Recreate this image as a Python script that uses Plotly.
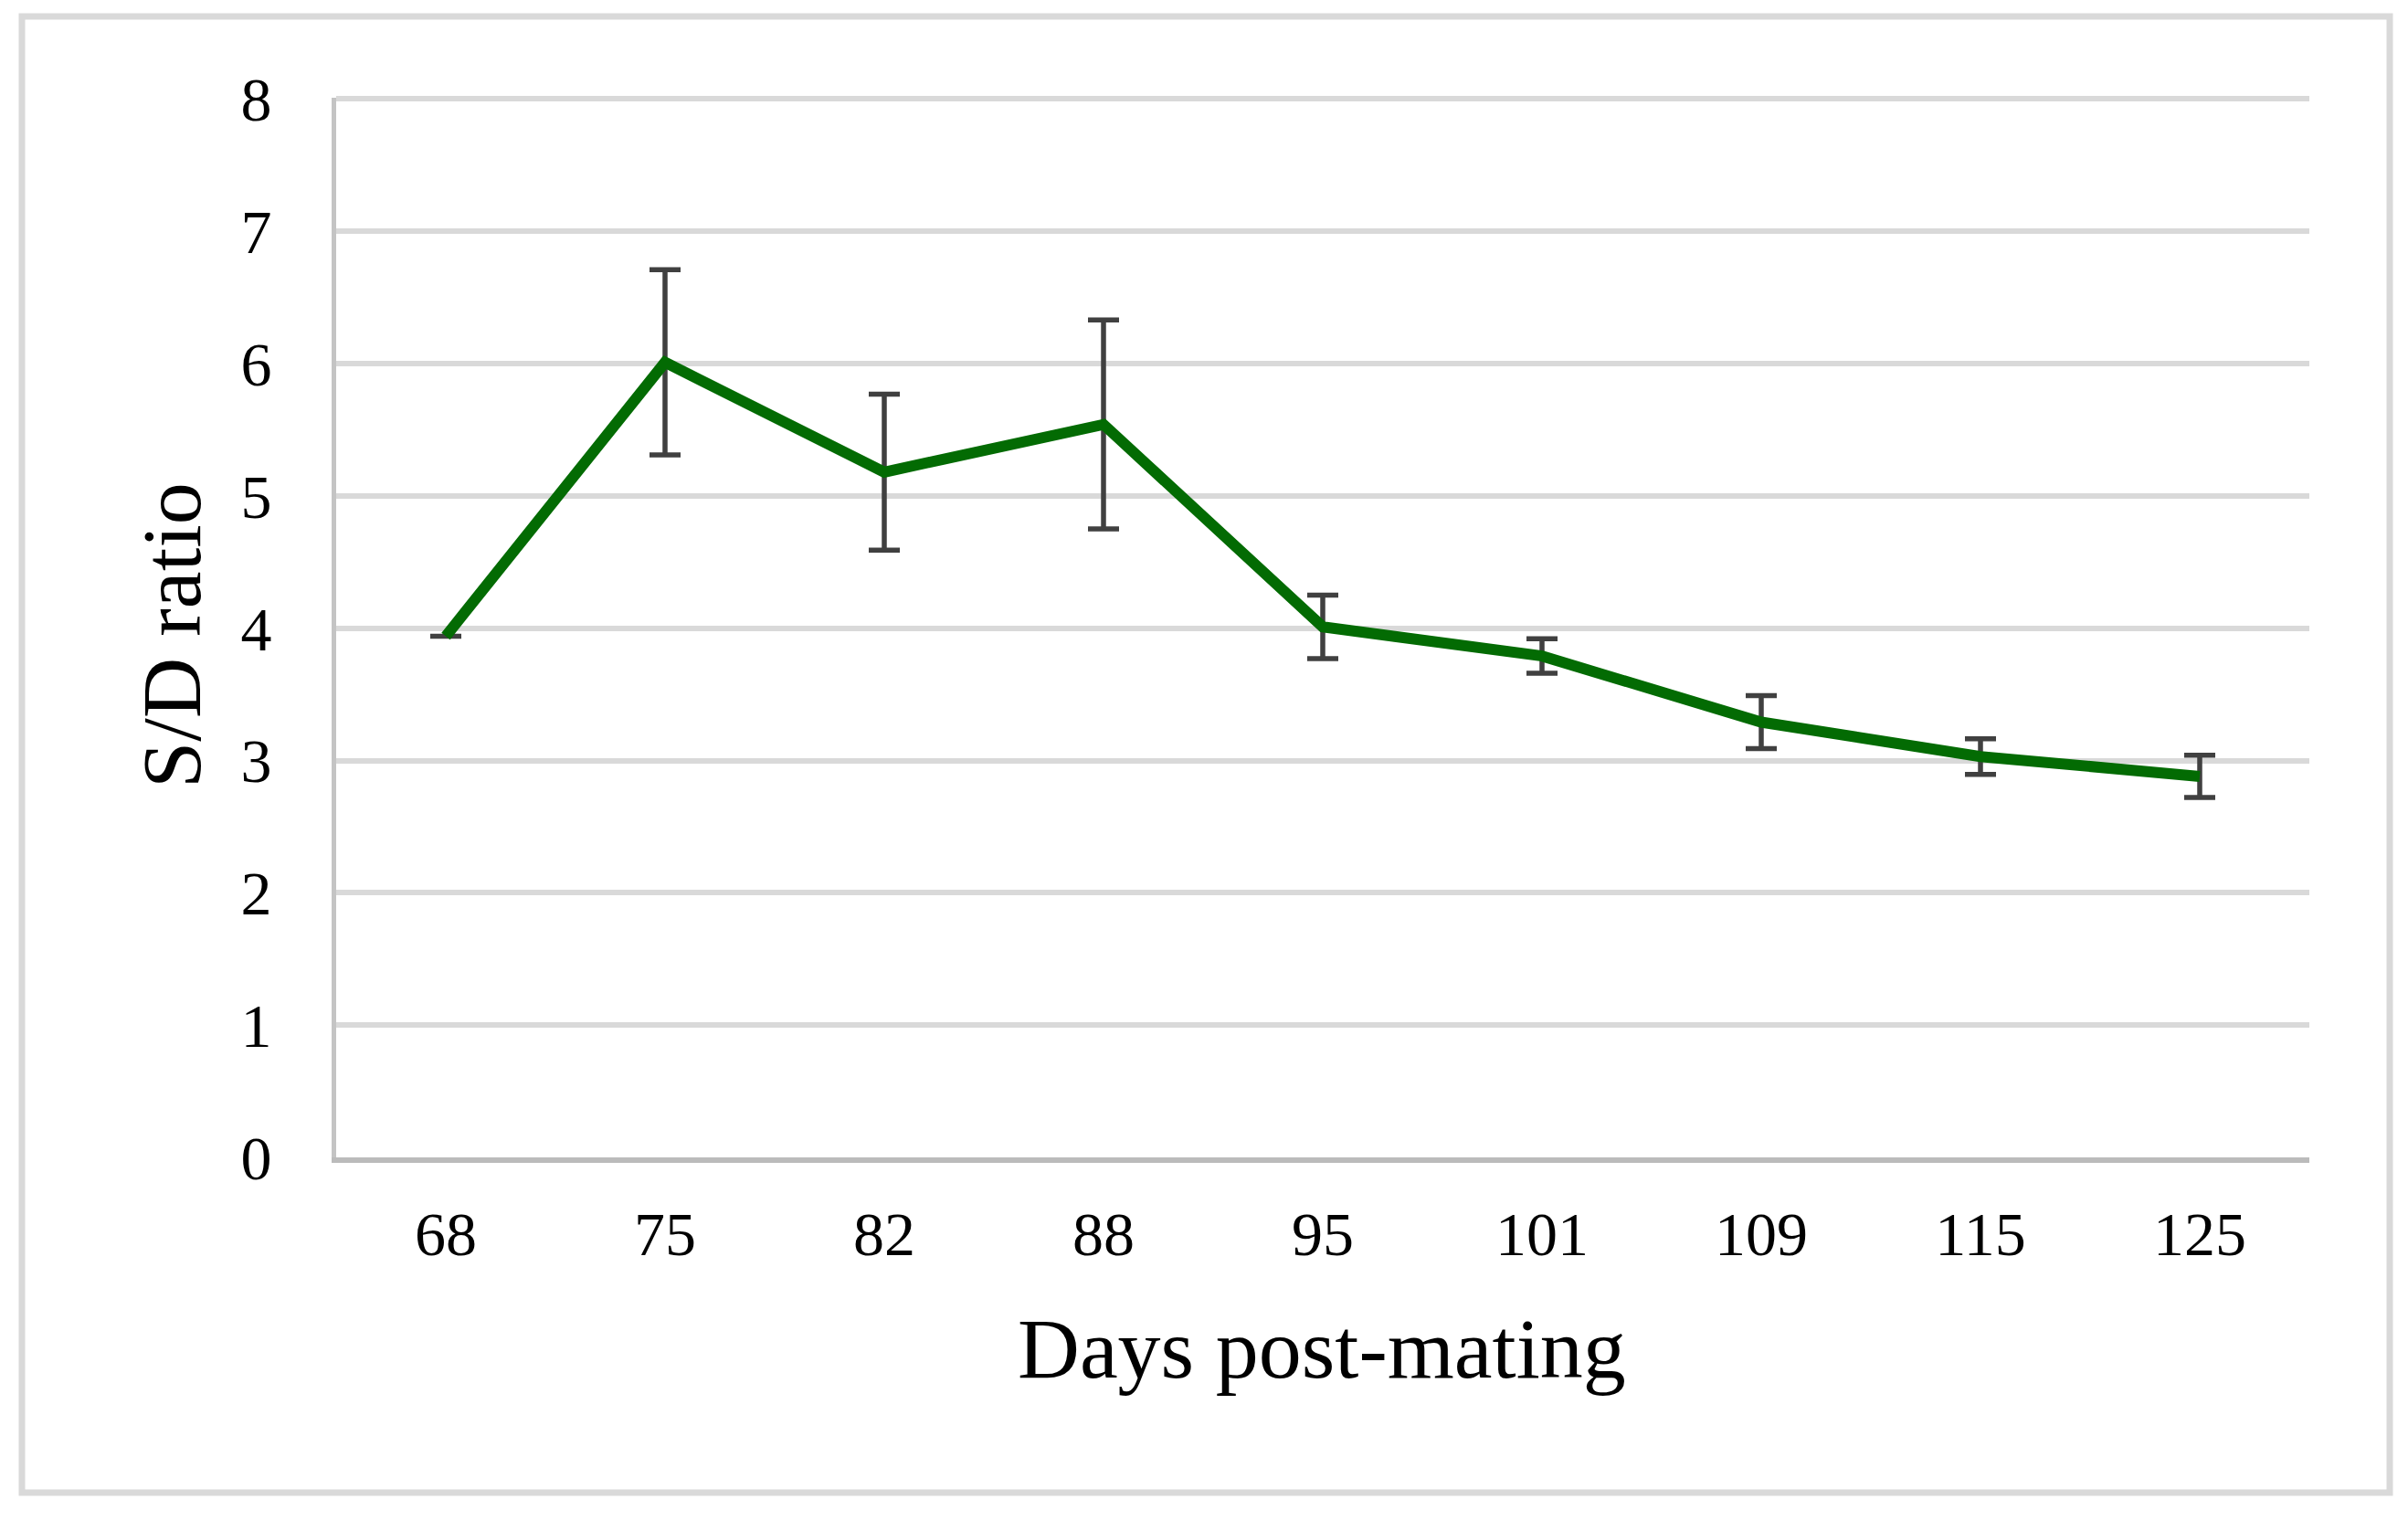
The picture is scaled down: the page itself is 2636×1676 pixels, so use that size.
import plotly.graph_objects as go

days = ["68", "75", "82", "88", "95", "101", "109", "115", "125"]
sd_ratio = [3.94, 6.01, 5.18, 5.54, 4.01, 3.79, 3.29, 3.03, 2.88]
sd_error = [0.0, 0.70, 0.59, 0.79, 0.24, 0.13, 0.20, 0.135, 0.16]
y_ticks = [0, 1, 2, 3, 4, 5, 6, 7, 8]

OFF = 8  # page body margin
W, H = 2636 - 2 * OFF, 1676 - 2 * OFF
# target positions in screenshot pixels, converted to figure pixels
L, R, T, B = 368 - OFF, 2528 - OFF, 107 - OFF, 1267 - OFF
FONT = "Liberation Serif"

fig = go.Figure()
fig.add_trace(go.Scatter(
    x=days, y=sd_ratio, mode="lines",
    line=dict(color="#036B03", width=12),
    error_y=dict(type="data", array=sd_error, visible=True,
                 color="#404040", thickness=5.5, width=17),
    showlegend=False,
))

def px(xs):
    return (xs - OFF - L) / (R - L)

def py(ys):
    return (B - (ys - OFF)) / (B - T)

fig.update_layout(
    width=W, height=H,
    margin=dict(l=L, r=W - R, t=T, b=H - B),
    paper_bgcolor="white", plot_bgcolor="white",
    font=dict(family=FONT, color="#000000"),
    xaxis=dict(type="category", range=[-0.5, 8.5], showgrid=False,
               showline=True, linecolor="#BBBBBB", linewidth=6,
               ticks="", tickfont=dict(size=68, family=FONT),
               ticklabelstandoff=19, zeroline=False),
    yaxis=dict(range=[0, 8.01], tickvals=y_ticks, showgrid=True,
               gridcolor="#D9D9D9", gridwidth=6,
               showline=True, linecolor="#C4C4C4", linewidth=5,
               ticks="", tickfont=dict(size=68, family=FONT),
               ticklabelstandoff=52, zeroline=False),
    annotations=[
        dict(text="Days post-mating", xref="paper", yref="paper",
             x=px(1447), y=py(1476), showarrow=False,
             font=dict(size=94, family=FONT), xanchor="center", yanchor="middle"),
        dict(text="S/D ratio", xref="paper", yref="paper",
             x=px(188), y=py(696), showarrow=False, textangle=-90,
             font=dict(size=92, family=FONT), xanchor="center", yanchor="middle"),
    ],
    shapes=[dict(type="rect", xref="paper", yref="paper",
                 x0=px(24), x1=px(2616), y0=py(1634), y1=py(18),
                 line=dict(color="#D9D9D9", width=7), layer="below")],
)

fig.write_html("out.html")
